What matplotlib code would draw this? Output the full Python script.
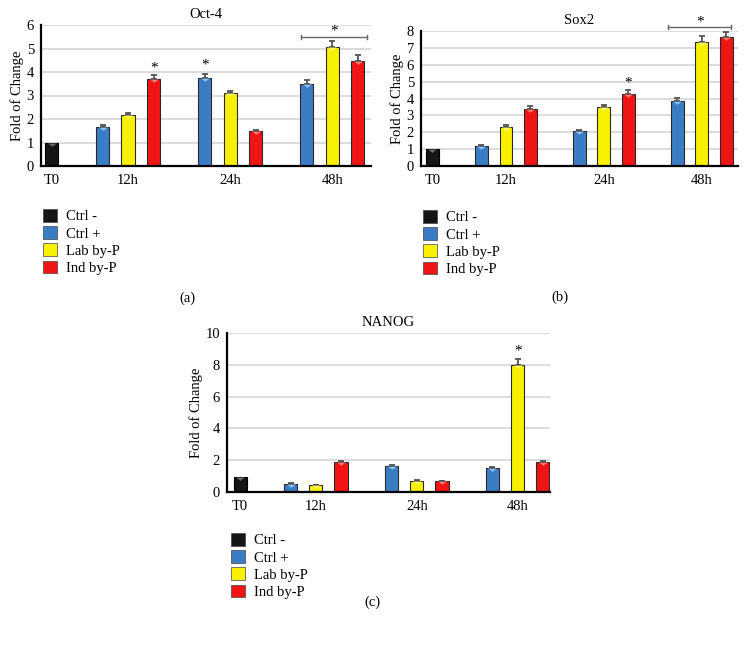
import matplotlib
matplotlib.use("Agg")
import matplotlib.pyplot as plt
from matplotlib.path import Path
from matplotlib.patches import Patch

plt.rcParams['font.family'] = ['Liberation Serif', 'DejaVu Serif']

# ---------------- data ----------------
categories = ["T0", "12h", "24h", "48h"]
series_names = ["Ctrl -", "Ctrl +", "Lab by-P", "Ind by-P"]
series_colors = ["#151515", "#3b7dc4", "#f7f000", "#f01414"]
highlight_colors = ["#6a6a6a", "#8fc0ee", "#fbf870", "#f77a7a"]

t0_oct4, t0_sox2, t0_nanog = 1.0, 1.03, 0.97

# rows: Ctrl +, Lab by-P, Ind by-P ; columns: 12h, 24h, 48h
oct4_vals = [[1.66, 3.73, 3.47], [2.15, 3.09, 5.08], [3.70, 1.49, 4.48]]
oct4_err = [[0.07, 0.17, 0.18], [0.10, 0.12, 0.22], [0.18, 0.05, 0.25]]
sox2_vals = [[1.17, 2.07, 3.85], [2.33, 3.50, 7.37], [3.40, 4.29, 7.63]]
sox2_err = [[0.07, 0.09, 0.18], [0.09, 0.13, 0.33], [0.14, 0.20, 0.34]]
nanog_vals = [[0.53, 1.62, 1.54], [0.42, 0.69, 8.00], [1.87, 0.67, 1.87]]
nanog_err = [[0.03, 0.05, 0.05], [0.02, 0.04, 0.38], [0.05, 0.03, 0.05]]

oct4_ticks = [0, 1, 2, 3, 4, 5, 6]
sox2_ticks = [0, 1, 2, 3, 4, 5, 6, 7, 8]
nanog_ticks = [0, 2, 4, 6, 8, 10]

cat_pos = [0.25, 1, 2, 3]
offset = 0.25
width = 0.13

# top-edge triangle marker (origin at the top edge)
tri = Path([(-1, 0), (1, 0), (0, -0.75), (-1, 0)],
           [Path.MOVETO, Path.LINETO, Path.LINETO, Path.CLOSEPOLY])

W, H = 747, 649
fig = plt.figure(figsize=(W / 100, H / 100), dpi=100)


def fig_rect(l, r, t, b):
    return [l / W, 1 - b / H, (r - l) / W, (b - t) / H]


def panel(rect, title, t0, vals, errs, ticks, xlim):
    ax = fig.add_axes(rect)
    ax.set_axisbelow(True)
    ax.bar([cat_pos[0]], [t0], width, color=series_colors[0],
           edgecolor="#000000", linewidth=0.8, zorder=2)
    ax.scatter([cat_pos[0]], [t0], marker=tri, s=40,
               color=highlight_colors[0], zorder=3, linewidths=0)
    for si in range(3):
        xs = [cat_pos[ci + 1] + (si - 1) * offset for ci in range(3)]
        ax.bar(xs, vals[si], width, color=series_colors[si + 1],
               edgecolor="#2a2a2a", linewidth=0.8, zorder=2)
        ax.errorbar(xs, vals[si], yerr=[[0] * 3, errs[si]], fmt="none",
                    ecolor="#555555", elinewidth=1.3, capsize=2.5,
                    capthick=1.3, zorder=1.5)
        ax.scatter(xs, vals[si], marker=tri, s=40,
                   color=highlight_colors[si + 1], zorder=3, linewidths=0)
    ax.set_xlim(*xlim)
    ax.set_ylim(ticks[0], ticks[-1])
    ax.set_yticks(ticks)
    ax.set_xticks(cat_pos)
    ax.set_xticklabels(categories)
    ax.tick_params(axis="both", length=0, labelsize=10.5)
    ax.tick_params(axis="x", pad=6)
    ax.tick_params(axis="y", pad=5)
    ax.yaxis.grid(True, color="#dcdcdc", linewidth=1.4)
    for s in ["top", "right"]:
        ax.spines[s].set_visible(False)
    for s in ["left", "bottom"]:
        ax.spines[s].set_linewidth(1.6)
    ax.set_ylabel("Fold of Change", fontsize=10.5, labelpad=2)
    ax.set_title(title, fontsize=10.5, pad=5)
    return ax


def star(ax, x, y):
    ax.text(x, y, "*", ha="center", va="center", fontsize=11,
            clip_on=False)


def bracket(ax, x0, x1, y, ystar, h):
    ax.plot([x0, x1], [y, y], color="#666666", lw=1, clip_on=False)
    ax.plot([x0, x0], [y - h, y + h], color="#666666", lw=1, clip_on=False)
    ax.plot([x1, x1], [y - h, y + h], color="#666666", lw=1, clip_on=False)
    star(ax, (x0 + x1) / 2, ystar)


ax_a = panel(fig_rect(41, 371, 25, 166), "Oct-4", t0_oct4, oct4_vals,
             oct4_err, oct4_ticks, (0.147, 3.38))
star(ax_a, 1.25, 4.15)
star(ax_a, 1.75, 4.3)
bracket(ax_a, 2.69, 3.34, 5.49, 5.75, 0.1)

ax_b = panel(fig_rect(421, 738, 31, 166), "Sox2", t0_sox2, sox2_vals,
             sox2_err, sox2_ticks, (0.133, 3.37))
star(ax_b, 2.25, 4.9)
bracket(ax_b, 2.66, 3.30, 8.25, 8.55, 0.13)

ax_c = panel(fig_rect(227, 550, 333, 492), "NANOG", t0_nanog, nanog_vals,
             nanog_err, nanog_ticks, (0.12, 3.32))
star(ax_c, 3.0, 8.85)

handles = [Patch(facecolor=c, edgecolor="#444444", linewidth=0.5)
           for c in series_colors]


def legend_at(x, y):
    fig.legend(handles, series_names, loc="upper left",
               bbox_to_anchor=(x / W, 1 - y / H), frameon=False,
               fontsize=10.5, handlelength=0.95, handleheight=0.95,
               handletextpad=0.6, labelspacing=0.2, borderpad=0,
               borderaxespad=0)


legend_at(43, 209)
legend_at(423, 210)
legend_at(231, 533)

fig.text(187 / W, 1 - 298 / H, "(a)", ha="center", va="center", fontsize=10.5)
fig.text(560 / W, 1 - 297 / H, "(b)", ha="center", va="center", fontsize=10.5)
fig.text(372 / W, 1 - 602 / H, "(c)", ha="center", va="center", fontsize=10.5)

fig.savefig("out.png", dpi=100)
